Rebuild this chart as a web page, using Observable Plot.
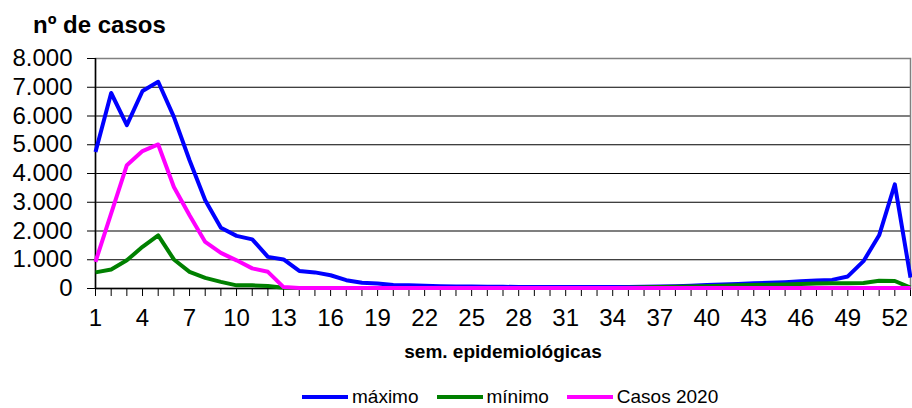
<!DOCTYPE html>
<html><head><meta charset="utf-8">
<script src="https://cdn.jsdelivr.net/npm/d3@7"></script>
<script src="https://cdn.jsdelivr.net/npm/@observablehq/plot@0.6"></script>
<style>
html,body{margin:0;padding:0;background:#fff;overflow:hidden}
#wrap{position:relative;width:912px;height:408px;font-family:"Liberation Sans",Arial,sans-serif;color:#000}
#title{position:absolute;left:33px;top:13px;font-weight:bold;font-size:24px;line-height:24px;white-space:nowrap}
#chart{position:absolute;left:0;top:40px}
#legend{position:absolute;left:302px;top:387px;display:flex;align-items:center;font-size:19px;line-height:19px;white-space:nowrap}
.item{display:flex;align-items:center;margin-right:18px}
.item svg{margin-right:4px;display:block}
</style></head>
<body>
<div id="wrap">
  <div id="title"></div>
  <div id="chart"></div>
  <div id="legend"></div>
</div>
<script>
const titleText = "nº de casos";
const xTitle = "sem. epidemiológicas";
const seriesNames = ["máximo", "mínimo", "Casos 2020"];
const seriesColors = ["#0000ff", "#008000", "#ff00ff"];

const weeks = [1,2,3,4,5,6,7,8,9,10,11,12,13,14,15,16,17,18,19,20,21,22,23,24,25,26,27,28,29,30,31,32,33,34,35,36,37,38,39,40,41,42,43,44,45,46,47,48,49,50,51,52,53];
const xLabels = [1,4,7,10,13,16,19,22,25,28,31,34,37,40,43,46,49,52];
const yTicks = [0,1000,2000,3000,4000,5000,6000,7000,8000];

const maximo = [4750,6800,5680,6870,7190,5970,4460,3070,2110,1830,1710,1100,1010,610,560,460,290,200,170,120,
  110,100,80,70,70,60,60,50,50,50,50,50,50,50,50,60,70,80,100,120,140,160,180,200,220,250,280,300,420,950,1850,3620,380];
const minimo = [560,660,980,1450,1850,1010,580,370,230,110,110,90,30,20,20,20,20,20,20,20,
  20,20,20,20,20,20,20,20,20,20,20,20,20,20,30,40,50,60,70,80,100,110,120,130,140,160,170,180,180,190,270,260,30];
const casos2020 = [930,2610,4290,4780,5010,3530,2550,1620,1240,980,700,580,50,20,20,20,20,20,20,20,
  20,20,20,20,20,20,20,20,20,20,20,20,20,20,20,20,20,20,20,20,20,20,20,20,20,20,20,20,20,20,20,20,20];

const series = [maximo, minimo, casos2020];

const fmt = d3.formatLocale({decimal: ",", thousands: ".", grouping: [3], currency: ["", ""]}).format(",");

document.getElementById("title").textContent = titleText;

const lineMarks = series.map((vals, k) =>
  Plot.line(weeks, {x: d => d, y: (d, i) => vals[i], stroke: seriesColors[k], strokeWidth: 4,
    strokeLinejoin: "round", strokeLinecap: "butt"})
);

const chart = Plot.plot({
  width: 912,
  height: 345,
  marginTop: 18,
  marginRight: 2,
  marginBottom: 97,
  marginLeft: 95,
  x: {domain: [1, 53]},
  y: {domain: [0, 8000]},
  style: {fontFamily: "'Liberation Sans', Arial, sans-serif", color: "#000", background: "#fff", overflow: "visible"},
  marks: [
    Plot.ruleY(yTicks.filter(v => v > 0 && v < 8000), {stroke: "#000", strokeWidth: 1.2}),
    Plot.frame({stroke: "#808080", strokeWidth: 1.5}),
    Plot.ruleX([1], {stroke: "#000", strokeWidth: 1.5}),
    Plot.ruleY([0], {stroke: "#000", strokeWidth: 1.5}),
    Plot.axisY(yTicks, {tickSize: 8, tickPadding: 15, tickFormat: fmt, label: null, fontSize: 24, stroke: "#000"}),
    Plot.axisX(weeks, {tickSize: 8, tickPadding: 12, tickFormat: d => xLabels.includes(d) ? String(d) : "", label: null, fontSize: 24, stroke: "#000"}),
    Plot.text([xTitle], {frameAnchor: "bottom", dy: 69, fontWeight: "bold", fontSize: 19, fill: "#000"}),
    ...lineMarks
  ]
});
document.getElementById("chart").appendChild(chart);

const legend = document.getElementById("legend");
seriesNames.forEach((name, k) => {
  const item = document.createElement("div");
  item.className = "item";
  item.innerHTML = `<svg width="46" height="6"><line x1="0" y1="3" x2="46" y2="3" stroke="${seriesColors[k]}" stroke-width="4"/></svg><span></span>`;
  item.querySelector("span").textContent = name;
  legend.appendChild(item);
});
</script>
</body></html>
